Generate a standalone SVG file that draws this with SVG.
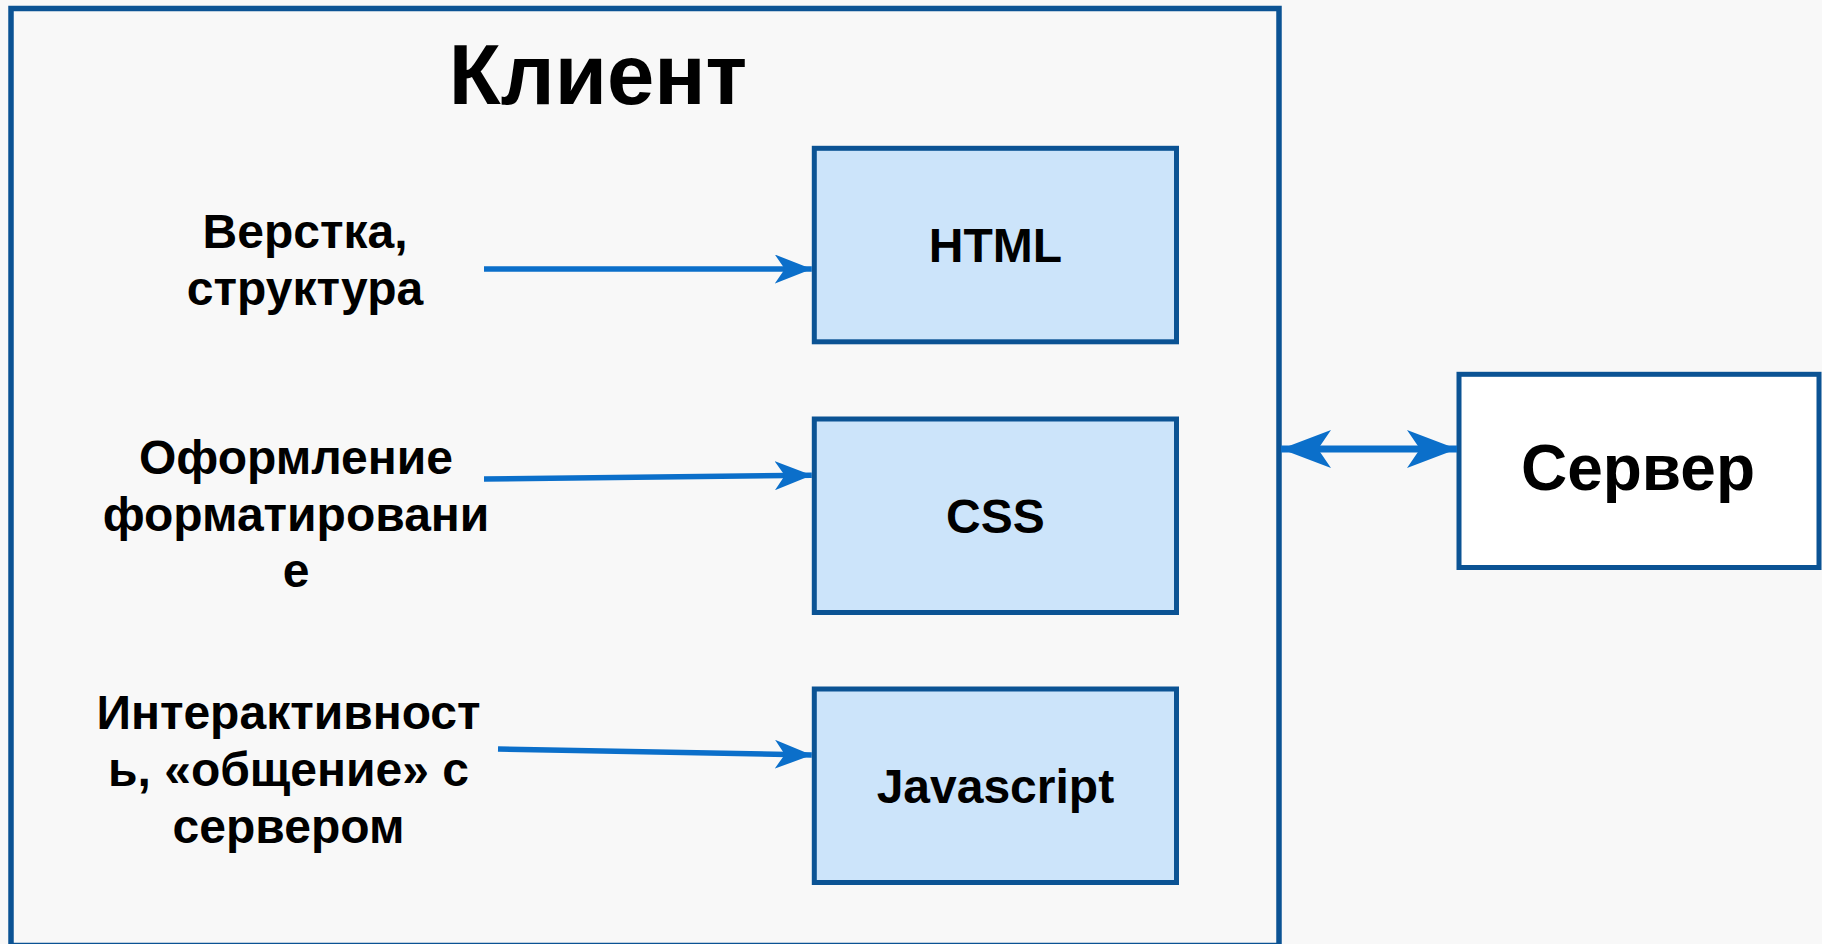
<svg xmlns="http://www.w3.org/2000/svg" width="1822" height="944" viewBox="0 0 1822 944">
<defs>
<style>
.box{fill:#cce4fa;stroke:#0b5394;stroke-width:5}
.cont{fill:none;stroke:#0b5394;stroke-width:5.5}
.srv{fill:#ffffff;stroke:#0b5394;stroke-width:5}
.t{font-family:"Liberation Sans",Arial,sans-serif;font-weight:bold;fill:#000;text-anchor:middle}
.lbl{font-size:48px}
.conn{stroke:#0b6fca;stroke-width:5.5;fill:none}
.conn2{stroke:#0b6fca;stroke-width:7;fill:none}
</style>
<marker id="ah" viewBox="0 0 37 29" refX="37" refY="14.5" markerWidth="37" markerHeight="29" markerUnits="userSpaceOnUse" orient="auto">
<path d="M0,0 L37,14.5 L0,29 L10,14.5 Z" fill="#0b6fca"/>
</marker>
<marker id="ah2" viewBox="0 0 50 38" refX="50" refY="19" markerWidth="50" markerHeight="38" markerUnits="userSpaceOnUse" orient="auto-start-reverse">
<path d="M0,0 L50,19 L0,38 L13,19 Z" fill="#0b6fca"/>
</marker>
</defs>
<rect x="0" y="0" width="1822" height="944" fill="#f8f8f8"/>
<g id="client">
<rect class="cont" x="11" y="8.5" width="1268" height="937"/>
<text class="t" x="598" y="104" font-size="85px">Клиент</text>
</g>
<g id="label-html">
<text class="t lbl" x="305" y="248">Верстка,</text>
<text class="t lbl" x="305" y="305">структура</text>
</g>
<g id="label-css">
<text class="t lbl" x="296" y="474">Оформление</text>
<text class="t lbl" x="296" y="531">форматировани</text>
<text class="t lbl" x="296" y="587">е</text>
</g>
<g id="label-js">
<text class="t lbl" x="288.5" y="729">Интерактивност</text>
<text class="t lbl" x="288.5" y="786">ь, «общение» с</text>
<text class="t lbl" x="288.5" y="843">сервером</text>
</g>
<g id="html">
<rect class="box" x="814.3" y="148.3" width="362.2" height="193.5"/>
<text class="t lbl" x="995.4" y="262">HTML</text>
</g>
<g id="css">
<rect class="box" x="814.3" y="419" width="362.2" height="193.5"/>
<text class="t lbl" x="995.4" y="533">CSS</text>
</g>
<g id="javascript">
<rect class="box" x="814.3" y="689" width="362.2" height="193.5"/>
<text class="t lbl" x="995.4" y="803">Javascript</text>
</g>
<g id="server">
<rect class="srv" x="1459" y="374.3" width="360" height="193.2"/>
<text class="t" x="1638" y="490" font-size="64px">Сервер</text>
</g>
<g id="connectors">
<line class="conn" x1="484" y1="269" x2="811.8" y2="269" marker-end="url(#ah)"/>
<line class="conn" x1="484" y1="479" x2="811.8" y2="475.3" marker-end="url(#ah)"/>
<line class="conn" x1="498" y1="749" x2="811.8" y2="755" marker-end="url(#ah)"/>
<line class="conn2" x1="1281" y1="449" x2="1457" y2="449" marker-start="url(#ah2)" marker-end="url(#ah2)"/>
</g>
</svg>
